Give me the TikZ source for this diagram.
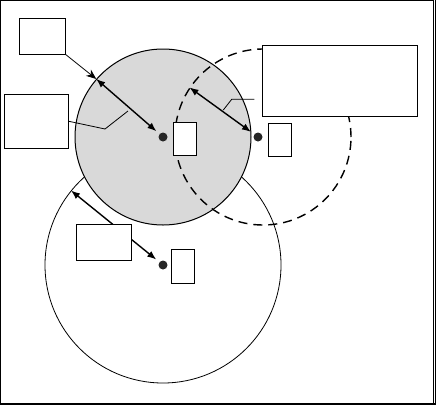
\documentclass[tikz,border=0pt]{standalone}
\usepackage{tikz}
\usetikzlibrary{arrows.meta,positioning}

\begin{document}
\begin{tikzpicture}[
    x=1pt, y=-1pt,
    box/.style={draw, fill=white, inner sep=0pt, line width=0.8pt},
    dot/.style={circle, fill=black!85, inner sep=0pt, minimum size=9pt},
    ring/.style={circle, draw, inner sep=0pt, line width=0.8pt},
    radius/.style={{Latex[length=9pt,width=7pt]}-{Latex[length=9pt,width=7pt]}, line width=1.4pt},
    leader/.style={line width=0.8pt}
]
\useasboundingbox (0,0) rectangle (436,405);
% frame
\draw[line width=1pt] (0.5,0.5) rectangle (433,403);
\draw[line width=0.8pt] (435.3,0) -- (435.3,405);
\draw[line width=2pt] (0,404) -- (436,404);

% circles
\node[ring, minimum size=236pt, fill=white] (wide) at (163,265) {};
\node[ring, minimum size=176pt, fill=gray!30, line width=1pt] (cover) at (163,137) {};
\node[ring, minimum size=176pt, dashed, dash pattern=on 9pt off 6pt, line width=1.4pt] (shift) at (263,137) {};

% centres
\node[dot] (c1) at (163,137) {};
\node[dot] (c2) at (258,137) {};
\node[dot] (c3) at (163,265) {};

% radii
\draw[radius, shorten <=4pt] (c1) -- (cover.139);
\draw[radius, shorten <=4pt] (c2) -- (shift.146);
\draw[radius, shorten <=4pt] (c3) -- (wide.141);

% boxes
\node[box, minimum width=46pt, minimum height=36pt] (tag) at (42.5,36.3) {};
\node[box, minimum width=64pt, minimum height=54pt] (side) at (36.5,121.3) {};
\node[box, minimum width=23pt, minimum height=33pt] (lab1) at (185,138.8) {};
\node[box, minimum width=155pt, minimum height=71pt] (note) at (340,80.8) {};
\node[box, minimum width=23pt, minimum height=33pt] (lab2) at (280,139.8) {};
\node[box, minimum width=55pt, minimum height=36pt] (mid) at (103.8,242.3) {};
\node[box, minimum width=23pt, minimum height=34pt] (lab3) at (183,266.3) {};

% leaders
\draw[leader, -{Stealth[length=10pt,width=8pt]}] (tag.south east) -- (cover.139);
\coordinate (sidetip) at (128,111);
\draw[leader] (side.east) -- (105,129) -- (sidetip);
\coordinate (notetip) at (223.3,110);
\coordinate (notefoot) at (254.3,99.3);
\draw[leader] (notefoot) -- (231.7,99.3) -- (notetip);
\end{tikzpicture}
\end{document}
